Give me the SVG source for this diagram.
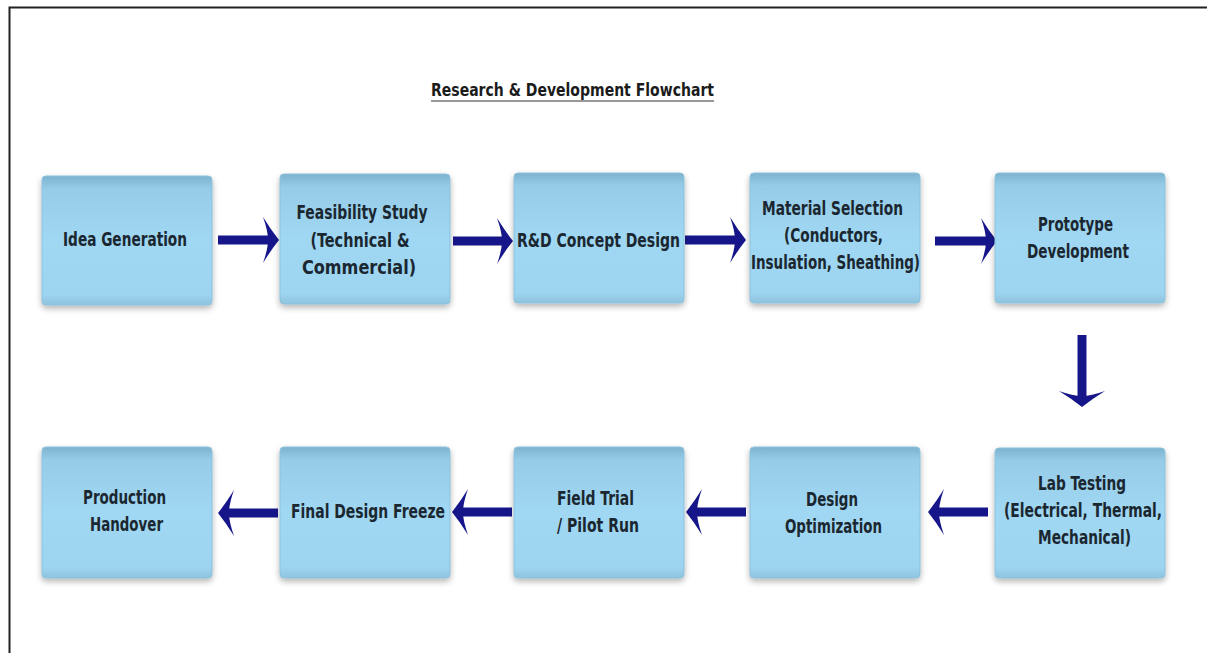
<svg xmlns="http://www.w3.org/2000/svg" width="1207" height="653" viewBox="0 0 1207 653">
<style>
.box{fill:url(#bg);stroke:#8cc1dc;stroke-width:1;filter:url(#sh)}
.t{font-family:"DejaVu Sans Condensed","Liberation Sans Narrow","Liberation Sans",sans-serif;font-weight:bold;font-size:19px;fill:#1b2730;text-anchor:middle}
.title{font-family:"DejaVu Sans Condensed","Liberation Sans Narrow","Liberation Sans",sans-serif;font-weight:bold;font-size:18px;fill:#1b1b1b;text-anchor:middle}
.c{stroke:#16168a;stroke-width:9;fill:none;marker-end:url(#ah)}
</style>
<defs>
<linearGradient id="bg" x1="0" y1="0" x2="0" y2="1">
<stop offset="0" stop-color="#7eb3cf"/>
<stop offset="0.1" stop-color="#96cce8"/>
<stop offset="0.5" stop-color="#a0d7f2"/>
<stop offset="0.92" stop-color="#9dd4ef"/>
<stop offset="1" stop-color="#8fc3de"/>
</linearGradient>
<filter id="sh" x="-10%" y="-10%" width="120%" height="125%">
<feGaussianBlur in="SourceAlpha" stdDeviation="3"/>
<feOffset dy="3" result="b"/>
<feComponentTransfer in="b" result="s"><feFuncA type="linear" slope="0.3"/></feComponentTransfer>
<feMerge><feMergeNode in="s"/><feMergeNode in="SourceGraphic"/></feMerge>
</filter>
<marker id="ah" markerUnits="userSpaceOnUse" markerWidth="22" markerHeight="50" viewBox="0 0 22 50" refX="10" refY="25" orient="auto">
<path d="M19,25 Q11,15 3,2 Q8,16 8,25 Q8,34 3,48 Q11,35 19,25 Z" fill="#16168a"/>
</marker>
<marker id="ahd" markerUnits="userSpaceOnUse" markerWidth="30" markerHeight="40" viewBox="0 0 30 40" refX="10" refY="20" orient="auto">
<path d="M27,20 Q16,12 2,1 Q9,12 9,20 Q9,28 2,39 Q16,28 27,20 Z" fill="#16168a"/>
</marker>
</defs>
<rect x="9.5" y="7.5" width="1210" height="660" fill="#ffffff" stroke="#222" stroke-width="2"/>
<g id="title">
<text class="title" x="572.5" y="96" textLength="283" lengthAdjust="spacingAndGlyphs">Research &amp; Development Flowchart</text>
<line x1="431" y1="101" x2="714" y2="101" stroke="#333" stroke-width="1"/>
</g>
<g id="connectors">
<line class="c" x1="218" y1="240" x2="270" y2="240"/>
<line class="c" x1="453" y1="241" x2="504" y2="241"/>
<line class="c" x1="685" y1="240" x2="737" y2="240"/>
<line class="c" x1="935" y1="241" x2="988" y2="241"/>
<line class="c" x1="1082" y1="335" x2="1082" y2="398" marker-end="url(#ahd)"/>
<line class="c" x1="988" y1="512" x2="937" y2="512"/>
<line class="c" x1="746" y1="512" x2="695" y2="512"/>
<line class="c" x1="512" y1="512" x2="461" y2="512"/>
<line class="c" x1="278" y1="513" x2="227" y2="513"/>
</g>
<g id="n1"><rect class="box" x="42" y="176" width="170" height="129" rx="4"/><text class="t" x="125" y="246" textLength="124" lengthAdjust="spacingAndGlyphs">Idea Generation</text></g>
<g id="n2"><rect class="box" x="280" y="174" width="170" height="130" rx="4"/><text class="t" x="362" y="219" textLength="131" lengthAdjust="spacingAndGlyphs">Feasibility Study</text><text class="t" x="360" y="247" textLength="99" lengthAdjust="spacingAndGlyphs">(Technical &amp;</text><text class="t" x="359" y="274" textLength="114" lengthAdjust="spacingAndGlyphs">Commercial)</text></g>
<g id="n3"><rect class="box" x="514" y="173" width="170" height="130" rx="4"/><text class="t" x="598.5" y="247" textLength="163" lengthAdjust="spacingAndGlyphs">R&amp;D Concept Design</text></g>
<g id="n4"><rect class="box" x="750" y="173" width="170" height="130" rx="4"/><text class="t" x="832.5" y="215" textLength="141" lengthAdjust="spacingAndGlyphs">Material Selection</text><text class="t" x="833.5" y="242" textLength="99" lengthAdjust="spacingAndGlyphs">(Conductors,</text><text class="t" x="835.5" y="269" textLength="169" lengthAdjust="spacingAndGlyphs">Insulation, Sheathing)</text></g>
<g id="n5"><rect class="box" x="995" y="173" width="170" height="130" rx="4"/><text class="t" x="1075.5" y="231" textLength="75" lengthAdjust="spacingAndGlyphs">Prototype</text><text class="t" x="1078" y="258" textLength="102" lengthAdjust="spacingAndGlyphs">Development</text></g>
<g id="n6"><rect class="box" x="995" y="448" width="170" height="130" rx="4"/><text class="t" x="1082" y="490" textLength="88" lengthAdjust="spacingAndGlyphs">Lab Testing</text><text class="t" x="1083" y="517" textLength="158" lengthAdjust="spacingAndGlyphs">(Electrical, Thermal,</text><text class="t" x="1084.5" y="544" textLength="93" lengthAdjust="spacingAndGlyphs">Mechanical)</text></g>
<g id="n7"><rect class="box" x="750" y="447" width="170" height="131" rx="4"/><text class="t" x="832" y="506" textLength="52" lengthAdjust="spacingAndGlyphs">Design</text><text class="t" x="833.5" y="533" textLength="97" lengthAdjust="spacingAndGlyphs">Optimization</text></g>
<g id="n8"><rect class="box" x="514" y="447" width="170" height="131" rx="4"/><text class="t" x="595.5" y="505" textLength="77" lengthAdjust="spacingAndGlyphs">Field Trial</text><text class="t" x="598" y="532" textLength="82" lengthAdjust="spacingAndGlyphs">/ Pilot Run</text></g>
<g id="n9"><rect class="box" x="280" y="447" width="170" height="131" rx="4"/><text class="t" x="368" y="518" textLength="154" lengthAdjust="spacingAndGlyphs">Final Design Freeze</text></g>
<g id="n10"><rect class="box" x="42" y="447" width="170" height="131" rx="4"/><text class="t" x="124.5" y="504" textLength="83" lengthAdjust="spacingAndGlyphs">Production</text><text class="t" x="126.5" y="531" textLength="73" lengthAdjust="spacingAndGlyphs">Handover</text></g>
</svg>
